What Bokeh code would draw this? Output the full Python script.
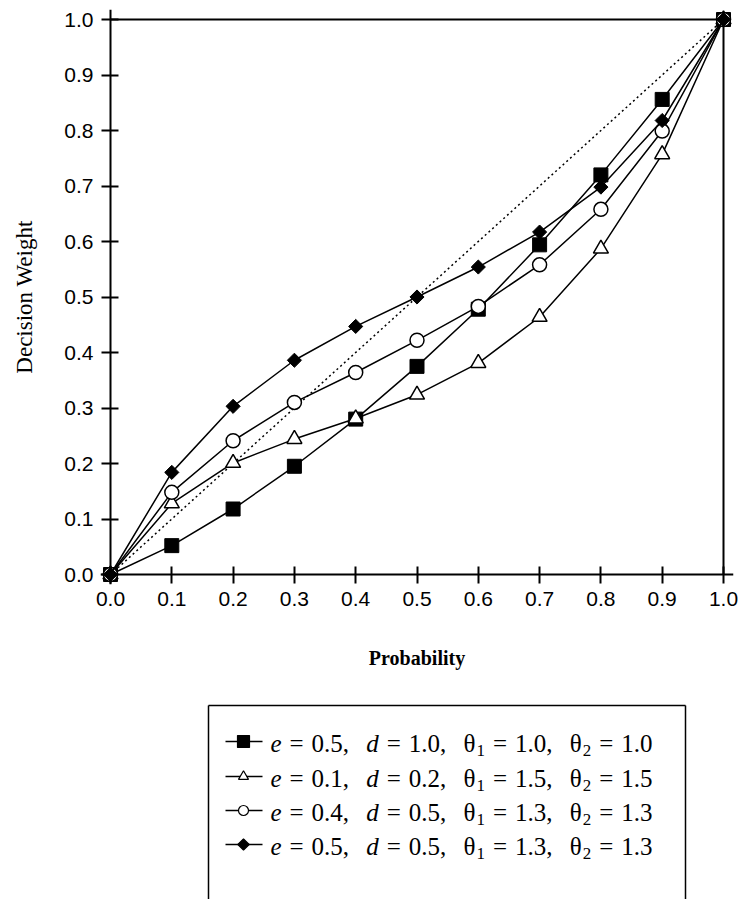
from bokeh.plotting import figure
from bokeh.models import Range1d, FixedTicker, LinearAxis
from bokeh.layouts import column
from bokeh.core.properties import value
from bokeh.embed import file_html
from bokeh.resources import INLINE
import math

# ---------------- data ----------------
prob = [0.0, 0.1, 0.2, 0.3, 0.4, 0.5, 0.6, 0.7, 0.8, 0.9, 1.0]
w_square = [0.0, 0.052, 0.118, 0.195, 0.280, 0.375, 0.478, 0.594, 0.720, 0.856, 1.0]
w_triangle = [0.0, 0.128, 0.201, 0.244, 0.281, 0.324, 0.381, 0.464, 0.587, 0.757, 1.0]
w_circle = [0.0, 0.148, 0.241, 0.310, 0.364, 0.422, 0.483, 0.558, 0.658, 0.799, 1.0]
w_diamond = [0.0, 0.184, 0.303, 0.386, 0.447, 0.500, 0.554, 0.617, 0.698, 0.818, 1.0]
diag_x = [0.0, 1.0]
diag_y = [0.0, 1.0]

tick_vals = [0.0, 0.1, 0.2, 0.3, 0.4, 0.5, 0.6, 0.7, 0.8, 0.9, 1.0]
tick_labels = ["0.0", "0.1", "0.2", "0.3", "0.4", "0.5", "0.6", "0.7", "0.8", "0.9", "1.0"]

leg_e = ["0.5", "0.1", "0.4", "0.5"]
leg_d = ["1.0", "0.2", "0.5", "0.5"]
leg_t1 = ["1.0", "1.5", "1.3", "1.3"]
leg_t2 = ["1.0", "1.5", "1.3", "1.3"]

SERIF = "Liberation Serif"
SANS = "Liberation Sans"

# page geometry (Bokeh's page template has no body margin)
W = 743
AX_L, AX_R, AX_T, AX_B = 110, 723, 19, 574   # where 0 and 1 fall on the page
PAD = 10                                      # room so edge markers are not clipped
FR_L, FR_R, FR_T, FR_B = AX_L - PAD, AX_R + PAD, AX_T - PAD, AX_B + PAD
H1 = 697
H2 = 899 - H1
px_x = 1.0 / (AX_R - AX_L)
px_y = 1.0 / (AX_B - AX_T)
TICK_OUT, TICK_IN, STANDOFF = 9, 8, 8

# ---------------- main plot ----------------
p = figure(width=W, height=H1,
           x_range=Range1d(-PAD * px_x, 1 + PAD * px_x),
           y_range=Range1d(-PAD * px_y, 1 + PAD * px_y),
           output_backend="svg", toolbar_location=None,
           min_border_left=FR_L, min_border_right=W - FR_R,
           min_border_top=FR_T, min_border_bottom=H1 - FR_B)
p.grid.visible = False
p.outline_line_color = None
p.background_fill_color = "white"
p.border_fill_color = "white"

# label-only axes at the frame edges
for ax in (p.xaxis[0], p.yaxis[0]):
    ax.ticker = FixedTicker(ticks=tick_vals)
    ax.major_label_overrides = {v: s for v, s in zip(tick_vals, tick_labels)}
    ax.minor_tick_line_color = None
    ax.axis_line_color = None
    ax.major_tick_line_color = None
    ax.major_tick_out = 0
    ax.major_tick_in = 0
    ax.major_label_text_font = SANS
    ax.major_label_text_font_size = "21px"
    ax.major_label_text_color = "black"
    ax.major_label_standoff = TICK_OUT + STANDOFF - PAD
    ax.axis_label_text_font = SERIF
    ax.axis_label_text_color = "black"

p.xaxis[0].axis_label = "Probability"
p.xaxis[0].axis_label_text_font_style = "bold"
p.xaxis[0].axis_label_text_font_size = "20px"
p.xaxis[0].axis_label_standoff = 38
p.yaxis[0].axis_label = "Decision Weight"
p.yaxis[0].axis_label_text_font_style = "normal"
p.yaxis[0].axis_label_text_font_size = "23px"
p.yaxis[0].axis_label_standoff = 24

# axis lines and ticks drawn exactly at 0
for side in ("below", "left"):
    a = LinearAxis(ticker=FixedTicker(ticks=tick_vals), fixed_location=0,
                   axis_line_width=2, axis_line_color="black",
                   major_tick_line_width=2, major_tick_line_color="black",
                   major_tick_out=TICK_OUT, major_tick_in=TICK_IN,
                   minor_tick_line_color=None,
                   major_label_text_color=None, major_label_text_font_size="1px",
                   major_label_standoff=0)
    p.add_layout(a, side)

# top and right frame edges of the plot box
p.segment(x0=[0, 1], y0=[1, 0], x1=[1, 1], y1=[1, 1], line_color="black", line_width=2)

p.line(diag_x, diag_y, line_color="black", line_width=1.5, line_dash="2 3")

LW = 1.5
p.line(prob, w_square, line_color="black", line_width=LW)
p.scatter(prob, w_square, marker="square", size=14, fill_color="black", line_color="black")
p.line(prob, w_triangle, line_color="black", line_width=LW)
p.scatter(prob, w_triangle, marker="triangle", size=15, fill_color="white", line_color="black", line_width=1.5)
p.line(prob, w_circle, line_color="black", line_width=LW)
p.scatter(prob, w_circle, marker="circle", size=14, fill_color="white", line_color="black", line_width=1.5)
p.line(prob, w_diamond, line_color="black", line_width=LW)
p.scatter(prob, w_diamond, marker="square", angle=math.pi / 4, size=10, fill_color="black", line_color="black")

# ---------------- legend panel (coordinates = page pixels) ----------------
lg = figure(width=W, height=H2, x_range=Range1d(FR_L, FR_R), y_range=Range1d(899, H1),
            output_backend="svg", toolbar_location=None,
            min_border_left=FR_L, min_border_right=W - FR_R, min_border_top=0, min_border_bottom=0)
lg.axis.visible = False
lg.grid.visible = False
lg.outline_line_color = None
lg.background_fill_color = "white"
lg.border_fill_color = "white"

box_l, box_r, box_t, box_b = 208, 685, 705, 899
lg.multi_line(xs=[[box_l, box_r], [box_l, box_l], [box_r, box_r]],
              ys=[[box_t, box_t], [box_t, box_b], [box_t, box_b]],
              line_color="black", line_width=1.5)

row_y = [741, 776, 810, 844]
seg_x0, seg_x1, mk_x = 225, 262, 243
markers = [("square", 12, "black", 0.0), ("triangle", 10, "white", 0.0),
           ("circle", 10, "white", 0.0), ("square", 8, "black", math.pi / 4)]
for (m, s, f, a), yy in zip(markers, row_y):
    lg.line([seg_x0, seg_x1], [yy, yy], line_color="black", line_width=1.5)
    lg.scatter([mk_x], [yy], marker=m, size=s, fill_color=f, line_color="black", line_width=1.2, angle=a)

FS = 25
SUB = 17
WID = {"0": 0.5, "1": 0.5, "2": 0.5, "3": 0.5, "4": 0.5, "5": 0.5, ".": 0.25, ",": 0.25,
       "=": 0.564, "e": 0.444, "d": 0.5, "θ": 0.52}


def tw(s, size):
    return sum(WID.get(c, 0.5) for c in s) * size


text_start, text_end = 270, 652
RATIO = 2.2
groups = {"n": ([], [], []), "i": ([], [], []), "s": ([], [], [])}
for k, yy in enumerate(row_y):
    seq = [("e", "i"), "g", ("=", "n"), "g", (leg_e[k] + ",", "n"), "G",
           ("d", "i"), "g", ("=", "n"), "g", (leg_d[k] + ",", "n"), "G",
           ("θ", "n"), ("1", "s"), "g", ("=", "n"), "g", (leg_t1[k] + ",", "n"), "G",
           ("θ", "n"), ("2", "s"), "g", ("=", "n"), "g", (leg_t2[k], "n")]
    glyph_w = sum(tw(t, SUB if st == "s" else FS) for t, st in [q for q in seq if isinstance(q, tuple)])
    ng = sum(1 for q in seq if q == "g")
    nG = sum(1 for q in seq if q == "G")
    g = (text_end - text_start - glyph_w) / (ng + RATIO * nG)
    G = RATIO * g
    x = text_start
    for q in seq:
        if q == "g":
            x += g
        elif q == "G":
            x += G
        else:
            t, st = q
            xs, ys, ts = groups[st]
            xs.append(x)
            ys.append(yy + (2 if st != "s" else 9))
            ts.append(t)
            x += tw(t, SUB if st == "s" else FS)

for st, (xs, ys, ts) in groups.items():
    lg.text(x=xs, y=ys, text=ts, text_font=value(SERIF),
            text_font_size="%dpx" % (SUB if st == "s" else FS),
            text_font_style="italic" if st == "i" else "normal",
            text_baseline="alphabetic", text_align="left", text_color="black")

layout = column(p, lg, spacing=0)
open("out.html", "w").write(file_html(layout, INLINE))
